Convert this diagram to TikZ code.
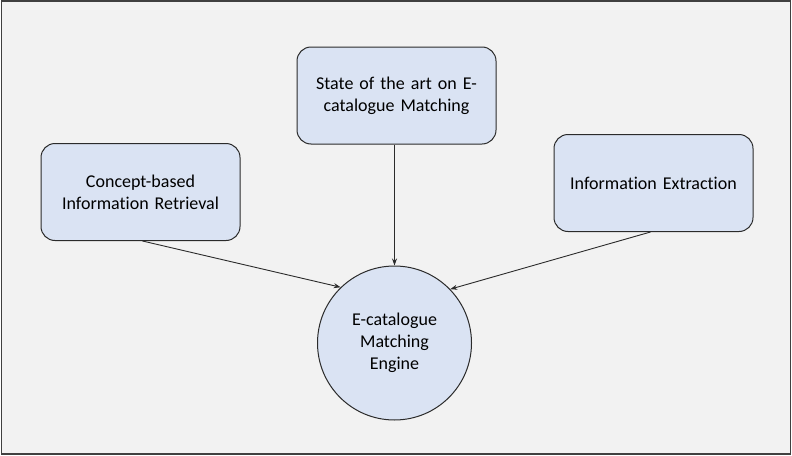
\documentclass[tikz,border=0pt]{standalone}
\usepackage{fontspec}
\setmainfont{Carlito}[Ligatures=NoCommon]
\usetikzlibrary{arrows.meta}
\definecolor{pagebg}{HTML}{F2F2F2}
\definecolor{boxfill}{HTML}{DAE3F3}
\definecolor{edge}{HTML}{2B2B2B}
\tikzset{
  topic/.style={draw=edge, fill=boxfill, line width=1pt, rounded corners=14pt,
    minimum width=199pt, minimum height=97pt, align=center, inner sep=4pt,
    font=\fontsize{18pt}{22pt}\selectfont, text width=185pt},
  engine/.style={draw=edge, fill=boxfill, line width=1pt, circle,
    minimum size=154pt, align=center, inner sep=0pt,
    font=\fontsize{18pt}{22pt}\selectfont},
  link/.style={draw=edge, line width=0.9pt, -{Stealth[length=7pt,width=5pt]}}
}
\begin{document}
\begin{tikzpicture}[x=1pt,y=-1pt]
  \useasboundingbox (0,0) rectangle (792,455);
  \draw[fill=pagebg, draw=edge!90, line width=1.6pt] (1.5,1) rectangle (790.5,454);

  \node[topic] (sota) at (396.5,95.5) {State of the art on E-\\catalogue Matching};
  \node[topic] (cbir) at (140.5,192) {Concept-based\\Information Retrieval};
  \node[topic] (ie)   at (653.5,183) {Information Extraction};
  \node[engine] (eng) at (394.5,343) {E-catalogue\\Matching\\Engine};

  \coordinate (sotaout) at (sota.south -| eng.north);
  \draw[link] (sotaout) -- (eng.north);
  \draw[link] ([xshift=2pt]cbir.south) -- (eng.134);
  \draw[link] ([xshift=-3pt]ie.south) -- (eng.44);
\end{tikzpicture}
\end{document}
